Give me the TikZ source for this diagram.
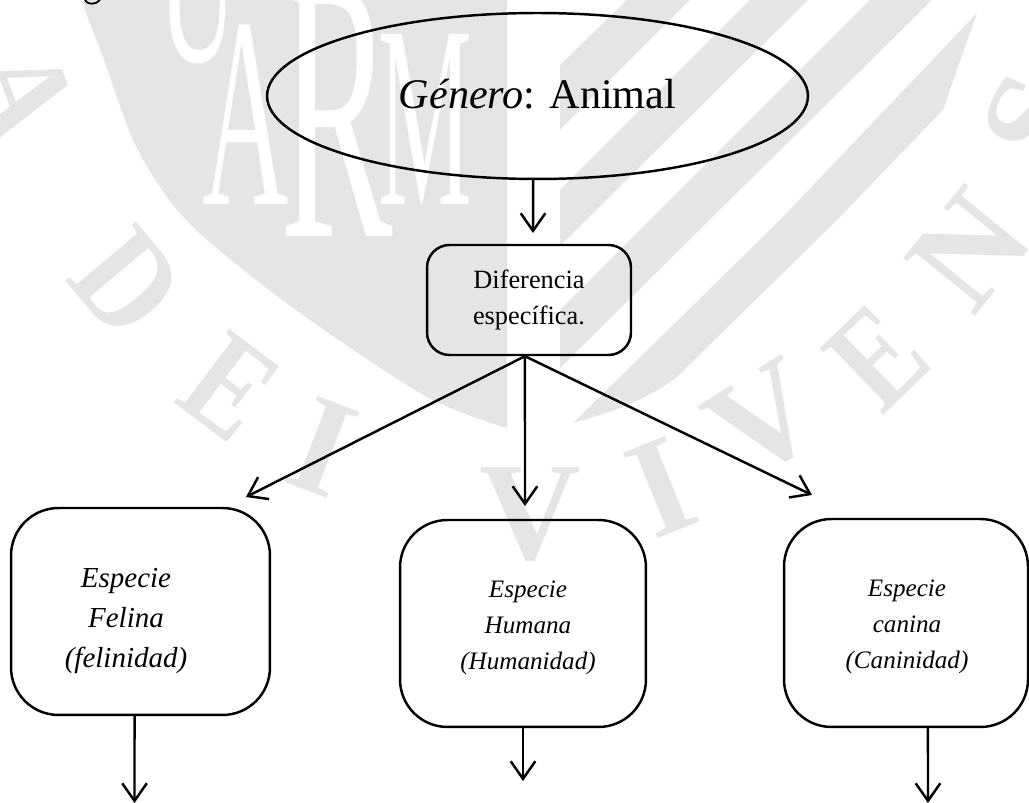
\documentclass[tikz,border=0pt]{standalone}
\usepackage{fontspec}
\setmainfont{Liberation Serif}
\usepackage{tikz}
\usetikzlibrary{shapes.geometric, arrows.meta}
\definecolor{wmgray}{HTML}{E5E5E5}
\tikzset{
  wmletter/.style = {text = white, inner sep = 0, anchor = base, font = \fontsize{40}{40}\selectfont},
  ringletter/.style = {text = wmgray, inner sep = 0, font = \bfseries\fontsize{80}{80}\selectfont},
  flow/.style = {line width = 1.4pt, -{Straight Barb[length = 10pt, width = 14pt]}},
  smallbox/.style = {draw, line width = 1.4pt, rounded corners = 0.45cm, minimum width = 4.08cm, minimum height = 2.2cm, inner sep = 0, align = center, font = \fontsize{15}{20.5}\selectfont},
  bigbox/.style = {draw, line width = 1.4pt, rounded corners = 0.95cm, inner sep = 0},
  felinatext/.style = {align = center, inner sep = 0, font = \itshape\fontsize{16.5}{22.8}\selectfont},
  especietext/.style = {align = center, inner sep = 0, font = \itshape\fontsize{14.3}{20.5}\selectfont}
}

\begin{document}
\begin{tikzpicture}[x = 0.02cm, y = -0.02cm]
\useasboundingbox (0,0) rectangle (1029,803);

% watermark
\begin{scope}
\clip (0,0) rectangle (1029,803);
\fill[wmgray] plot [smooth] coordinates {(83,-5) (85,10) (103,57) (133,140) (167,197) (207,240) (300,313) (427,397) (507,428)} -- (507,-5) -- cycle;
\fill[wmgray] (560,65) -- (627,0) -- (690,0) -- (560,130) -- cycle;
\fill[wmgray] (560,190) -- (750,0) -- (808,0) -- (560,246) -- cycle;
\fill[wmgray] (560,310) -- (870,0) -- (932,0) -- (560,368) -- cycle;
\fill[wmgray] (573,423) -- (780,220) -- (977,13) -- (943,110) -- (837,220) -- (677,377) .. controls (640,405) and (600,415) .. (573,423) -- cycle;
\node[wmletter] (waterU) at (198,62) {\scalebox{1.55}[3.5]{U}};
\node[wmletter] (waterA) at (246,205) {\scalebox{1.7}[3.87]{A}};
\node[wmletter] (waterR) at (337,237) {\scalebox{2.4}[5.4]{R}};
\node[wmletter] (waterM) at (425,205) {\scalebox{1.5}[3.7]{M}};
\node[ringletter, rotate = -70] (ringA) at (22,93) {\scalebox{.85}[1]{A}};
\node[ringletter, rotate = -50] (ringD) at (127,283) {\scalebox{.85}[1]{D}};
\node[ringletter, rotate = -37] (ringE) at (230,387) {\scalebox{.8}[1]{E}};
\node[ringletter, rotate = -21] (ringI) at (323,447) {I};
\node[ringletter] (ringV) at (530,515) {V};
\node[ringletter, rotate = 22] (ringIb) at (662,488) {I};
\node[ringletter, rotate = 32] (ringVb) at (765,420) {V};
\node[ringletter, rotate = 44] (ringEb) at (878,357) {\scalebox{.8}[1]{E}};
\node[ringletter, rotate = 51] (ringN) at (970,250) {N};
\node[ringletter, rotate = 65] (ringS) at (1035,120) {S};
\end{scope}

% cut off line above
\draw[line width = 1pt] (85,0) .. controls (87,5) and (96,5) .. (100,0);

\node[ellipse, draw, line width = 1.4pt, minimum width = 10.82cm, minimum height = 3.32cm, inner sep = 0, font = \fontsize{24}{24}\selectfont] (genero) at (537.5,96) {\raisebox{3pt}{\textit{Género}: Animal}};
\node[smallbox] (diferencia) at (529,300) {Diferencia\\específica.};

\node[bigbox, minimum width = 5.18cm, minimum height = 4.14cm] (felina) at (140.5,611.5) {};
\node[bigbox, minimum width = 4.92cm, minimum height = 4.14cm] (humana) at (523,623.5) {};
\node[bigbox, minimum width = 4.88cm, minimum height = 4.16cm] (canina) at (906,623) {};

\node[felinatext] (felinalabel) at (126,621) {Especie\\Felina\\(felinidad)};
\node[especietext] (humanalabel) at (528,628) {Especie\\Humana\\(Humanidad)};
\node[especietext] (caninalabel) at (907,627) {Especie\\canina\\(Caninidad)};

\coordinate (tipdif) at (533,233);
\coordinate (tipfel) at (246,497);
\coordinate (tiphum) at (525,506);
\coordinate (tipcan) at (812,495);
\coordinate (endfel) at (134.5,803);
\coordinate (endhum) at (523,781);
\coordinate (endcan) at (928,803);

\draw[flow] ([xshift = -2.5pt]genero.south) -- (tipdif);
\draw[flow] ([xshift = -2.3pt]diferencia.south) -- (tipfel);
\draw[flow] ([xshift = -2.3pt]diferencia.south) -- (tiphum);
\draw[flow] ([xshift = -2.3pt]diferencia.south) -- (tipcan);
\draw[flow] ([xshift = -3.4pt]felina.south) -- (endfel);
\draw[flow] (humana.south) -- (endhum);
\draw[flow] ([xshift = 12.5pt]canina.south) -- (endcan);
\end{tikzpicture}
\end{document}
